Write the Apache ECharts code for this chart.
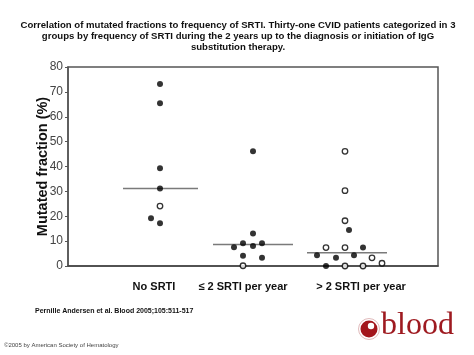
<!DOCTYPE html>
<html><head><meta charset="utf-8">
<script src="https://cdn.jsdelivr.net/npm/echarts@6/dist/echarts.min.js"></script>
<style>html,body{margin:0;padding:0;background:#fff}#c{width:474px;height:355px}</style>
</head><body><div id="c"></div>
<script>
var titleLines = [
  'Correlation of mutated fractions to frequency of SRTI. Thirty-one CVID patients categorized in 3',
  'groups by frequency of SRTI during the 2 years up to the diagnosis or initiation of IgG',
  'substitution therapy.'
];
var groupNames = ['No SRTI', '\u2264 2 SRTI per year', '> 2 SRTI per year'];
var groupLabelX = [8.6, 17.5, 29.3];
var yTicks = [0, 10, 20, 30, 40, 50, 60, 70, 80];

// [x position (jitter within group), mutated fraction %]
var noSrtiFilled = [[9.2,73.2],[9.2,65.4],[9.2,39.3],[9.2,31.2],[8.3,19.2],[9.2,17.2]];
var noSrtiOpen = [[9.2,24.1]];
var lowFilled = [[18.5,46.1],[18.5,13.1],[17.5,9.1],[18.5,8.0],[19.4,9.1],[16.6,7.5],[17.5,4.1],[19.4,3.3]];
var lowOpen = [[17.5,0.1]];
var highFilled = [[28.1,14.5],[29.5,7.4],[24.9,4.3],[26.8,3.3],[28.6,4.3],[25.8,0]];
var highOpen = [[27.7,46.1],[27.7,30.3],[27.7,18.2],[25.8,7.4],[27.7,7.4],[30.4,3.3],[27.7,0],[29.5,0],[31.4,1.1]];

var medians = [31.2, 8.6, 5.3];
var medianSpans = [[5.5,13.0],[14.5,22.5],[23.9,31.9]];

var chart = echarts.init(document.getElementById('c'));
var filled = noSrtiFilled.concat(lowFilled, highFilled);
var open = noSrtiOpen.concat(lowOpen, highOpen);
var series = [];
medians.forEach(function(m, i){
  series.push({type:'line', data:[[medianSpans[i][0], m],[medianSpans[i][1], m]], symbol:'none',
    lineStyle:{color:'#7a7a7a', width:1.5}, silent:true, z:1});
});
series.push({type:'scatter', data:filled, symbol:'circle', symbolSize:6, clip:false,
  itemStyle:{color:'#000'}, z:3});
series.push({type:'scatter', data:open, symbol:'circle', symbolSize:5.5, clip:false,
  itemStyle:{color:'#fff', borderColor:'#000', borderWidth:1.3}, z:3});

chart.setOption({
  animation:false,
  grid:{left:68, right:36, top:67, bottom:89, show:true, borderColor:'#555', borderWidth:1.5, backgroundColor:'transparent'},
  xAxis:{type:'value', min:0, max:37,
    axisLine:{show:true, lineStyle:{color:'#444', width:1.5}},
    axisTick:{show:false}, splitLine:{show:false},
    axisLabel:{customValues:groupLabelX, margin:15,
      formatter:function(v){ var i = groupLabelX.indexOf(v); return i>=0 ? groupNames[i] : ''; },
      fontFamily:'Liberation Sans, Arial, sans-serif', fontSize:11, fontWeight:'bold', color:'#111'}
  },
  yAxis:{type:'value', min:0, max:80, interval:10,
    name:'Mutated fraction (%)', nameLocation:'middle', nameGap:18, nameMoveOverlap:false,
    nameTextStyle:{fontFamily:'Liberation Sans, Arial, sans-serif', fontSize:14.5, fontWeight:'bold', color:'#111'},
    axisLine:{show:true, lineStyle:{color:'#555', width:1.5}},
    axisTick:{show:true, length:3, lineStyle:{color:'#555'}},
    splitLine:{show:false},
    axisLabel:{customValues:yTicks, margin:5, fontFamily:'Liberation Sans Narrow, Liberation Sans, Arial, sans-serif', fontSize:12, color:'#444'}
  },
  series:series,
  graphic:[
    {type:'text', x:238, y:20, style:{text:titleLines.join('\n'), align:'center', lineHeight:11,
      font:'bold 9.6px "Liberation Sans", Arial, sans-serif', fill:'#111'}},
    {type:'text', left:35, top:308, style:{text:'Pernille Andersen et al. Blood 2005;105:511-517', font:'bold 7px "Liberation Sans", Arial, sans-serif', fill:'#111'}},
    {type:'text', left:4, top:342, style:{text:'\u00a92005 by American Society of Hematology', font:'6px "Liberation Sans", Arial, sans-serif', fill:'#444'}},
    {type:'circle', shape:{cx:369, cy:329, r:8.5}, style:{fill:'#a3161c'}},
    {type:'circle', shape:{cx:371, cy:326, r:3.2}, style:{fill:'#fff'}},
    {type:'circle', shape:{cx:369, cy:329, r:10.5}, style:{fill:'none', stroke:'#d8a8aa', lineWidth:0.8}},
    {type:'text', left:381, top:310, style:{text:'blood', font:'32px "Liberation Serif", "DejaVu Serif", serif', fill:'#9e1a20'}}
  ]
});
</script></body></html>
